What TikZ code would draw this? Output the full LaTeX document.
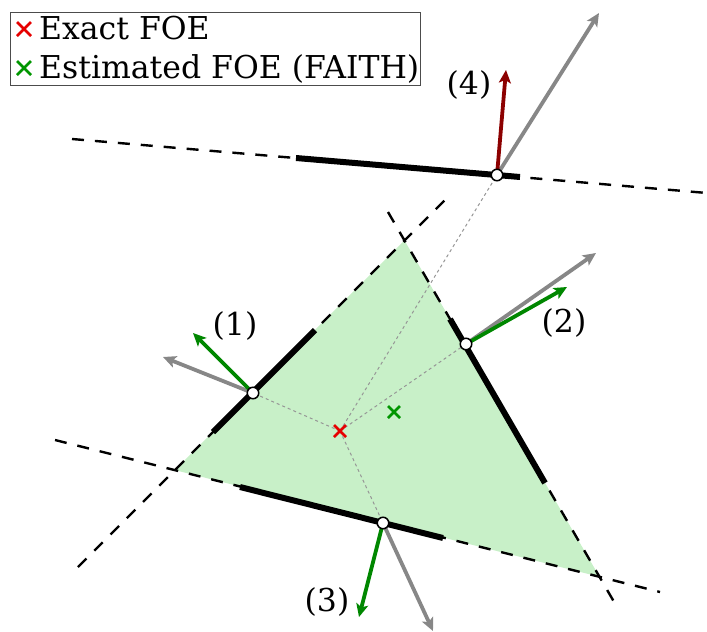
\documentclass[tikz,border=0pt]{standalone}
\usepackage{fontspec}
\setmainfont{DejaVu Serif}
\usetikzlibrary{arrows.meta}
\definecolor{fillgreen}{RGB}{200,240,200}
\definecolor{arrgreen}{RGB}{0,135,0}
\definecolor{arrgray}{RGB}{135,135,135}
\definecolor{arrred}{RGB}{140,0,0}
\definecolor{foered}{RGB}{230,0,0}
\definecolor{foegreen}{RGB}{0,150,0}
\definecolor{raygray}{RGB}{150,150,150}
\begin{document}
\begin{tikzpicture}[x=1pt,y=-1pt,
  dline/.style={black,line width=2.4pt,dash pattern=on 12pt off 11pt},
  seg/.style={black,line width=6pt},
  ray/.style={raygray,line width=1pt,dash pattern=on 3pt off 3pt},
  vec/.style={line width=3.8pt,-{Stealth[length=13pt,width=12pt,inset=3pt]}},
  pt/.style={circle,draw=black,fill=white,line width=1.5pt,minimum size=11.5pt,inner sep=0pt},
  lbl/.style={font=\fontsize{31.5}{36}\selectfont,inner sep=0pt},
  mk/.style={line width=2.8pt}]
\useasboundingbox (0,0) rectangle (707,632);

% line endpoints
\coordinate (A1) at (78,567);  \coordinate (A2) at (447,198);
\coordinate (B1) at (388,212); \coordinate (B2) at (617,607);
\coordinate (C1) at (55,440);  \coordinate (C2) at (660,592);
\coordinate (D1) at (72,139);  \coordinate (D2) at (707,193);

% triangle vertices
\coordinate (V1) at (intersection of A1--A2 and C1--C2);
\coordinate (V2) at (intersection of A1--A2 and B1--B2);
\coordinate (V3) at (intersection of B1--B2 and C1--C2);
\fill[fillgreen] (V1) -- (V2) -- (V3) -- cycle;

% dashed lines
\draw[dline] (A1) -- (A2);
\draw[dline] (B1) -- (B2);
\draw[dline] (C1) -- (C2);
\draw[dline] (D1) -- (D2);

% thick segments
\coordinate (SA1) at (213,432); \coordinate (SA2) at (315,330);
\coordinate (SB1) at (450,319); \coordinate (SB2) at (545,483);
\coordinate (SC1) at (240,487); \coordinate (SC2) at (443,538);
\coordinate (SD1) at (296,158); \coordinate (SD2) at (520,177);
\draw[seg] (SA1) -- (SA2);
\draw[seg] (SB1) -- (SB2);
\draw[seg] (SC1) -- (SC2);
\draw[seg] (SD1) -- (SD2);

% FOE points
\coordinate (foe) at (340,431);
\coordinate (est) at (394,412);

% points
\coordinate (P1) at (253,393);
\coordinate (P2) at (466,344);
\coordinate (P3) at (383,523);
\coordinate (P4) at (497,175);

% rays
\draw[ray] (foe) -- (P1);
\draw[ray] (foe) -- (P2);
\draw[ray] (foe) -- (P3);
\draw[ray] (foe) -- (P4);

% vectors
\coordinate (G1) at (163,357); \coordinate (F1) at (193,333);
\coordinate (G2) at (596,253); \coordinate (F2) at (567,287);
\coordinate (G3) at (433,631); \coordinate (F3) at (359,617);
\coordinate (G4) at (599,13);  \coordinate (F4) at (506,70);
\draw[vec,arrgray] (P1) -- (G1);
\draw[vec,arrgreen] (P1) -- (F1);
\draw[vec,arrgray] (P2) -- (G2);
\draw[vec,arrgreen] (P2) -- (F2);
\draw[vec,arrgray] (P3) -- (G3);
\draw[vec,arrgreen] (P3) -- (F3);
\draw[vec,arrgray] (P4) -- (G4);
\draw[vec,arrred] (P4) -- (F4);

% point circles
\node[pt] (c1) at (P1) {};
\node[pt] (c2) at (P2) {};
\node[pt] (c3) at (P3) {};
\node[pt] (c4) at (P4) {};

% markers
\draw[mk,foered] ([shift={(-6,-6)}]foe) -- ([shift={(6,6)}]foe);
\draw[mk,foered] ([shift={(-6,6)}]foe) -- ([shift={(6,-6)}]foe);
\draw[mk,foegreen] ([shift={(-6,-6)}]est) -- ([shift={(6,6)}]est);
\draw[mk,foegreen] ([shift={(-6,6)}]est) -- ([shift={(6,-6)}]est);

% labels
\node[lbl] (l1) at (235,326) {(1)};
\node[lbl] (l2) at (564,323) {(2)};
\node[lbl] (l3) at (327,602) {(3)};
\node[lbl] (l4) at (469,85) {(4)};

% legend
\draw[fill=white,draw=black!70,line width=1pt] (10,12) rectangle (420,85);
\coordinate (m1) at (24,29);
\coordinate (m2) at (24,68);
\draw[mk,foered] ([shift={(-7,-7)}]m1) -- ([shift={(7,7)}]m1);
\draw[mk,foered] ([shift={(-7,7)}]m1) -- ([shift={(7,-7)}]m1);
\draw[mk,foegreen] ([shift={(-7,-7)}]m2) -- ([shift={(7,7)}]m2);
\draw[mk,foegreen] ([shift={(-7,7)}]m2) -- ([shift={(7,-7)}]m2);
\node[lbl,anchor=base west] (t1) at (39,39) {Exact FOE};
\node[lbl,anchor=base west] (t2) at (39,78) {Estimated FOE (FAITH)};
\end{tikzpicture}
\end{document}
